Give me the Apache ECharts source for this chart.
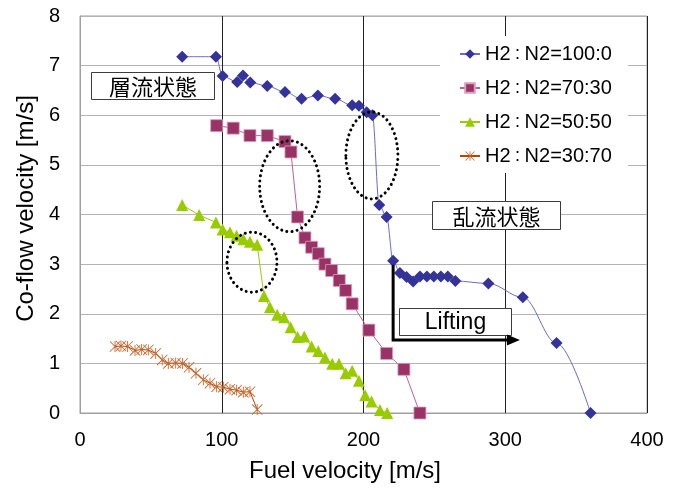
<!DOCTYPE html>
<html>
<head>
<meta charset="utf-8">
<script src="https://cdn.jsdelivr.net/npm/echarts@6/dist/echarts.min.js"></script>
<style>
  html, body { margin: 0; padding: 0; background: #fff; }
  #main { width: 684px; height: 491px; }
</style>
</head>
<body>
<div id="main"></div>
<script>
// Series names (H2 : N2 mixing ratio)
const seriesNames = ['H2：N2=100:0', 'H2：N2=70:30', 'H2：N2=50:50', 'H2：N2=30:70'];

// H2:N2 = 100:0
const fuel100 = [72.1, 95.9, 100.6, 110.9, 115.0, 120.1, 132.1, 144.6, 156.3, 167.8, 180.0, 192.0, 196.8, 202.2, 206.3,
  211.1, 216.3, 220.9, 225.7, 230.4, 235.0, 239.8, 244.7, 249.6, 254.6, 259.5, 264.8, 288.1, 312.4, 336.2, 360.2];
const coflow100 = [7.18, 7.18, 6.79, 6.67, 6.80, 6.66, 6.59, 6.47, 6.33, 6.40, 6.33, 6.20, 6.19, 6.06, 6.00,
  4.19, 3.95, 3.07, 2.82, 2.74, 2.65, 2.75, 2.75, 2.75, 2.75, 2.75, 2.66, 2.61, 2.33, 1.41, 0.0];

// H2:N2 = 70:30
const fuel70 = [96.4, 108.1, 119.9, 132.1, 144.6, 148.8, 153.5, 158.7, 163.4, 168.1, 172.8, 177.5, 182.9, 187.4, 192.0,
  203.8, 216.3, 228.5, 239.8];
const coflow70 = [5.79, 5.74, 5.59, 5.59, 5.47, 5.26, 3.95, 3.53, 3.34, 3.21, 3.00, 2.87, 2.67, 2.47, 2.20,
  1.67, 1.20, 0.88, 0.0];

// H2:N2 = 50:50
const fuel50 = [72.1, 84.1, 95.9, 100.6, 105.8, 110.4, 115.2, 119.9, 125.0, 129.8, 134.0, 139.1, 143.9, 148.6, 153.5,
  158.2, 163.4, 168.1, 172.8, 177.9, 182.7, 187.4, 192.0, 196.8, 201.2, 205.7, 211.6, 216.7];
const coflow50 = [4.19, 3.99, 3.84, 3.70, 3.64, 3.57, 3.50, 3.45, 3.39, 2.36, 2.13, 1.98, 1.93, 1.73, 1.53,
  1.54, 1.34, 1.25, 1.12, 0.99, 0.99, 0.80, 0.85, 0.65, 0.36, 0.23, 0.06, 0.0];

// H2:N2 = 30:70
const fuel30 = [24.7, 28.9, 33.6, 38.8, 43.5, 48.2, 53.4, 58.0, 62.3, 67.5, 72.4, 76.9, 81.8, 87.0, 91.7,
  96.4, 101.1, 105.8, 110.5, 115.2, 119.9, 125.0];
const coflow30 = [1.34, 1.35, 1.34, 1.26, 1.28, 1.27, 1.20, 1.07, 1.00, 1.01, 1.00, 0.92, 0.80, 0.67, 0.60,
  0.53, 0.52, 0.48, 0.46, 0.42, 0.43, 0.07];

// Axis ranges and tick steps
const xTicks = [0, 100, 200, 300, 400];
const yTicks = [0, 1, 2, 3, 4, 5, 6, 7, 8];

const pairs = (xs, ys) => xs.map((x, i) => [x, ys[i]]);

// Star marker: an "X" crossed by a vertical bar
const starPath = 'path://M9.2,0L10.8,0L10.8,20L9.2,20Z M0,1.1L1.1,0L20,18.9L18.9,20Z M18.9,0L20,1.1L1.1,20L0,18.9Z';

const latin = '"Liberation Sans", Arial, "Noto Sans CJK JP", sans-serif';
const jp = '"Noto Sans CJK JP", "Noto Sans CJK SC", sans-serif';

const chart = echarts.init(document.getElementById('main'), null, { renderer: 'canvas' });

// Legend labels: the full-width colon is set a little smaller so it sits tight
const legendLabel = (name) => {
  const k = name.indexOf('：');
  return '{t|' + name.slice(0, k) + '}{c|：}{t|' + name.slice(k + 1) + '}';
};

chart.setOption({
  backgroundColor: '#ffffff',
  animation: false,
  grid: {
    left: 80, right: 37, top: 16, bottom: 78,
    show: true, borderColor: '#a0a0a0', borderWidth: 1, backgroundColor: 'transparent'
  },
  xAxis: {
    type: 'value', min: xTicks[0], max: xTicks[xTicks.length - 1], interval: 100,
    name: 'Fuel velocity [m/s]', nameLocation: 'middle', nameGap: 46,
    nameTextStyle: { fontFamily: latin, fontSize: 24, color: '#000', padding: [0, 37, 0, 0] },
    axisLine: { show: true, lineStyle: { color: '#a0a0a0', width: 1 } },
    axisTick: { show: false },
    axisLabel: { fontFamily: latin, fontSize: 20, color: '#000', margin: 17 },
    splitLine: { show: true, lineStyle: { color: '#222', width: 1 } }
  },
  yAxis: {
    type: 'value', min: yTicks[0], max: yTicks[yTicks.length - 1], interval: 1,
    name: 'Co-flow velocity [m/s]', nameLocation: 'middle', nameGap: 42, nameRotate: 90,
    nameTextStyle: { fontFamily: latin, fontSize: 24, color: '#000', padding: [0, 0, 0, 12] },
    axisLine: { show: true, lineStyle: { color: '#a0a0a0', width: 1 } },
    axisTick: { show: false },
    axisLabel: { fontFamily: latin, fontSize: 20, color: '#000', margin: 20 },
    splitLine: { show: true, lineStyle: { color: '#b4b4b4', width: 1 } }
  },
  legend: {
    show: true, orient: 'vertical', left: 440, top: 36,
    backgroundColor: '#ffffff',
    padding: [7, 16, 6, 19],
    itemGap: 12, itemWidth: 20, itemHeight: 12,
    formatter: legendLabel,
    textStyle: {
      fontFamily: latin, fontSize: 20, color: '#000', lineHeight: 22,
      rich: {
        t: { fontFamily: latin, fontSize: 20, color: '#000', lineHeight: 22 },
        c: { fontFamily: jp, fontSize: 14, color: '#000', lineHeight: 22 }
      }
    },
    data: seriesNames
  },
  series: [
    {
      name: seriesNames[0], type: 'line', data: pairs(fuel100, coflow100),
      smooth: 0.35, smoothMonotone: 'x',
      symbol: 'diamond', symbolSize: 12,
      lineStyle: { color: '#6b6bc8', width: 1 },
      itemStyle: { color: '#333399' }, z: 5
    },
    {
      name: seriesNames[1], type: 'line', data: pairs(fuel70, coflow70),
      symbol: 'rect', symbolSize: 12,
      lineStyle: { color: '#c0608f', width: 1 },
      itemStyle: { color: '#993366', borderColor: '#d9a0bd', borderWidth: 0.8 }, z: 4
    },
    {
      name: seriesNames[2], type: 'line', data: pairs(fuel50, coflow50),
      symbol: 'triangle', symbolSize: 12,
      lineStyle: { color: '#99cc00', width: 1 },
      itemStyle: { color: '#99cc00' }, z: 3
    },
    {
      name: seriesNames[3], type: 'line', data: pairs(fuel30, coflow30),
      symbol: starPath, symbolSize: 11,
      lineStyle: { color: '#b34700', width: 1 },
      itemStyle: { color: '#c8642a' }, z: 6
    }
  ]
});

// Annotations anchored to data coordinates
const px = (x, y) => chart.convertToPixel({ gridIndex: 0 }, [x, y]);

function labelBox(x, y, w, h, text, font, size) {
  const p = px(x, y);
  return {
    type: 'group', x: Math.round(p[0]) + 0.5, y: Math.round(p[1]) + 0.5, z: 100,
    children: [
      { type: 'rect', shape: { x: 0, y: 0, width: w, height: h },
        style: { fill: '#ffffff', stroke: '#3c3c3c', lineWidth: 1 } },
      { type: 'text', x: w / 2, y: h / 2 + 1,
        style: { text: text, fontFamily: font, fontSize: size, fill: '#000',
                 align: 'center', verticalAlign: 'middle' } }
    ]
  };
}

function dottedEllipse(x, y, rx, ry) {
  const c = px(x, y);
  return {
    type: 'ellipse', z: 110,
    shape: { cx: c[0], cy: c[1], rx: rx, ry: ry },
    style: { fill: 'none', stroke: '#000', lineWidth: 3, lineDash: [0.01, 5.2], lineCap: 'round' }
  };
}

const a0 = px(fuel100[17], coflow100[17]);
const a1 = px(fuel100[17], 1.47);
const a2 = px(308.9, 1.47);

chart.setOption({
  graphic: [
    labelBox(7.5, 6.87, 123, 27, '層流状態', jp, 22),
    labelBox(248.0, 4.28, 128, 28, '乱流状態', jp, 22),
    labelBox(225.0, 2.11, 112, 27, 'Lifting', latin, 23),
    dottedEllipse(147.9, 4.57, 30, 45.5),
    dottedEllipse(205.9, 5.19, 26, 43.5),
    dottedEllipse(121.3, 3.04, 25, 30),
    {
      type: 'polyline', z: 120,
      shape: { points: [[a0[0], a0[1] + 4], [a1[0], a1[1]], [a2[0] - 9, a2[1]]] },
      style: { stroke: '#000', lineWidth: 3, fill: 'none', lineJoin: 'miter' }
    },
    {
      type: 'polygon', z: 120,
      shape: { points: [[a2[0] - 11, a2[1] - 5.5], [a2[0] + 2, a2[1]], [a2[0] - 11, a2[1] + 5.5]] },
      style: { fill: '#000' }
    }
  ]
});
</script>
</body>
</html>
